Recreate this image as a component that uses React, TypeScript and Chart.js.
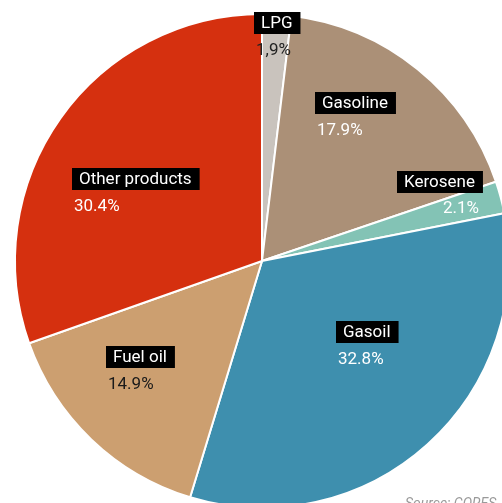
import React, { useEffect, useRef } from "react";
import { Chart, registerables } from "chart.js";

Chart.register(...registerables);

const categories = ["LPG", "Gasoline", "Kerosene", "Gasoil", "Fuel oil", "Other products"];
const shares = [1.9, 17.9, 2.1, 32.8, 14.9, 30.4];
const shareLabels = ["1,9%", "17.9%", "2.1%", "32.8%", "14.9%", "30.4%"];
const sliceColors = ["#c9c3bd", "#ab9077", "#83c3b5", "#3e8fae", "#cc9f70", "#d5300f"];
const shareTextColors = ["#222222", "#ffffff", "#ffffff", "#ffffff", "#1a1a1a", "#ffffff"];
const sourceText = "Source: CORES";

// label layout: box left and box centre, as offsets from pie centre
const labelLayout = [
  { dx: -8, dy: -238, align: "left" },
  { dx: 53, dy: -158, align: "left" },
  { dx: 135, dy: -79, align: "right" },
  { dx: 74, dy: 71, align: "left" },
  { dx: -156, dy: 96, align: "left" },
  { dx: -190, dy: -82, align: "left" },
];

const FONT = '17px Roboto, "Noto Sans", sans-serif';

const labelPlugin = {
  id: "sliceLabels",
  afterDraw(chart: any) {
    const ctx = chart.ctx;
    const area = chart.chartArea;
    const cx = (area.left + area.right) / 2;
    const cy = (area.top + area.bottom) / 2;
    ctx.save();
    ctx.font = FONT;
    ctx.textBaseline = "middle";
    categories.forEach((name, i) => {
      const l = labelLayout[i];
      const w = ctx.measureText(name).width + 15;
      const bx = cx + l.dx;
      const by = cy + l.dy;
      ctx.fillStyle = "#000000";
      ctx.fillRect(bx, by - 11, w, 22);
      ctx.fillStyle = "#ffffff";
      ctx.textAlign = "left";
      ctx.fillText(name, bx + 7, by + 1);
      ctx.fillStyle = shareTextColors[i];
      if (l.align === "right") {
        ctx.textAlign = "right";
        ctx.fillText(shareLabels[i], bx + w - 4, by + 27);
      } else {
        ctx.textAlign = "left";
        ctx.fillText(shareLabels[i], bx + 2, by + 28);
      }
    });
    ctx.font = 'italic 14px Roboto, "Noto Sans", sans-serif';
    ctx.fillStyle = "#9a9a9a";
    ctx.textAlign = "left";
    ctx.textBaseline = "alphabetic";
    ctx.fillText(sourceText, cx + 143, cy + 247);
    ctx.restore();
  },
};

export default function App() {
  const ref = useRef<HTMLCanvasElement>(null);
  useEffect(() => {
    if (!ref.current) return;
    const chart = new Chart(ref.current, {
      type: "pie",
      data: {
        labels: categories,
        datasets: [
          {
            data: shares,
            backgroundColor: sliceColors,
            borderColor: "#ffffff",
            borderWidth: 2,
          },
        ],
      },
      options: {
        responsive: false,
        animation: false,
        radius: 247,
        layout: { padding: 0 },
        plugins: {
          legend: { display: false },
          tooltip: { enabled: false },
        },
      } as any,
      plugins: [labelPlugin],
    });
    return () => chart.destroy();
  }, []);
  return (
    <div
      style={{
        position: "fixed",
        left: 0,
        top: 0,
        width: 502,
        height: 503,
        overflow: "hidden",
        background: "#ffffff",
      }}
    >
      <canvas ref={ref} width={524} height={522} style={{ width: 524, height: 522, display: "block" }} />
    </div>
  );
}
